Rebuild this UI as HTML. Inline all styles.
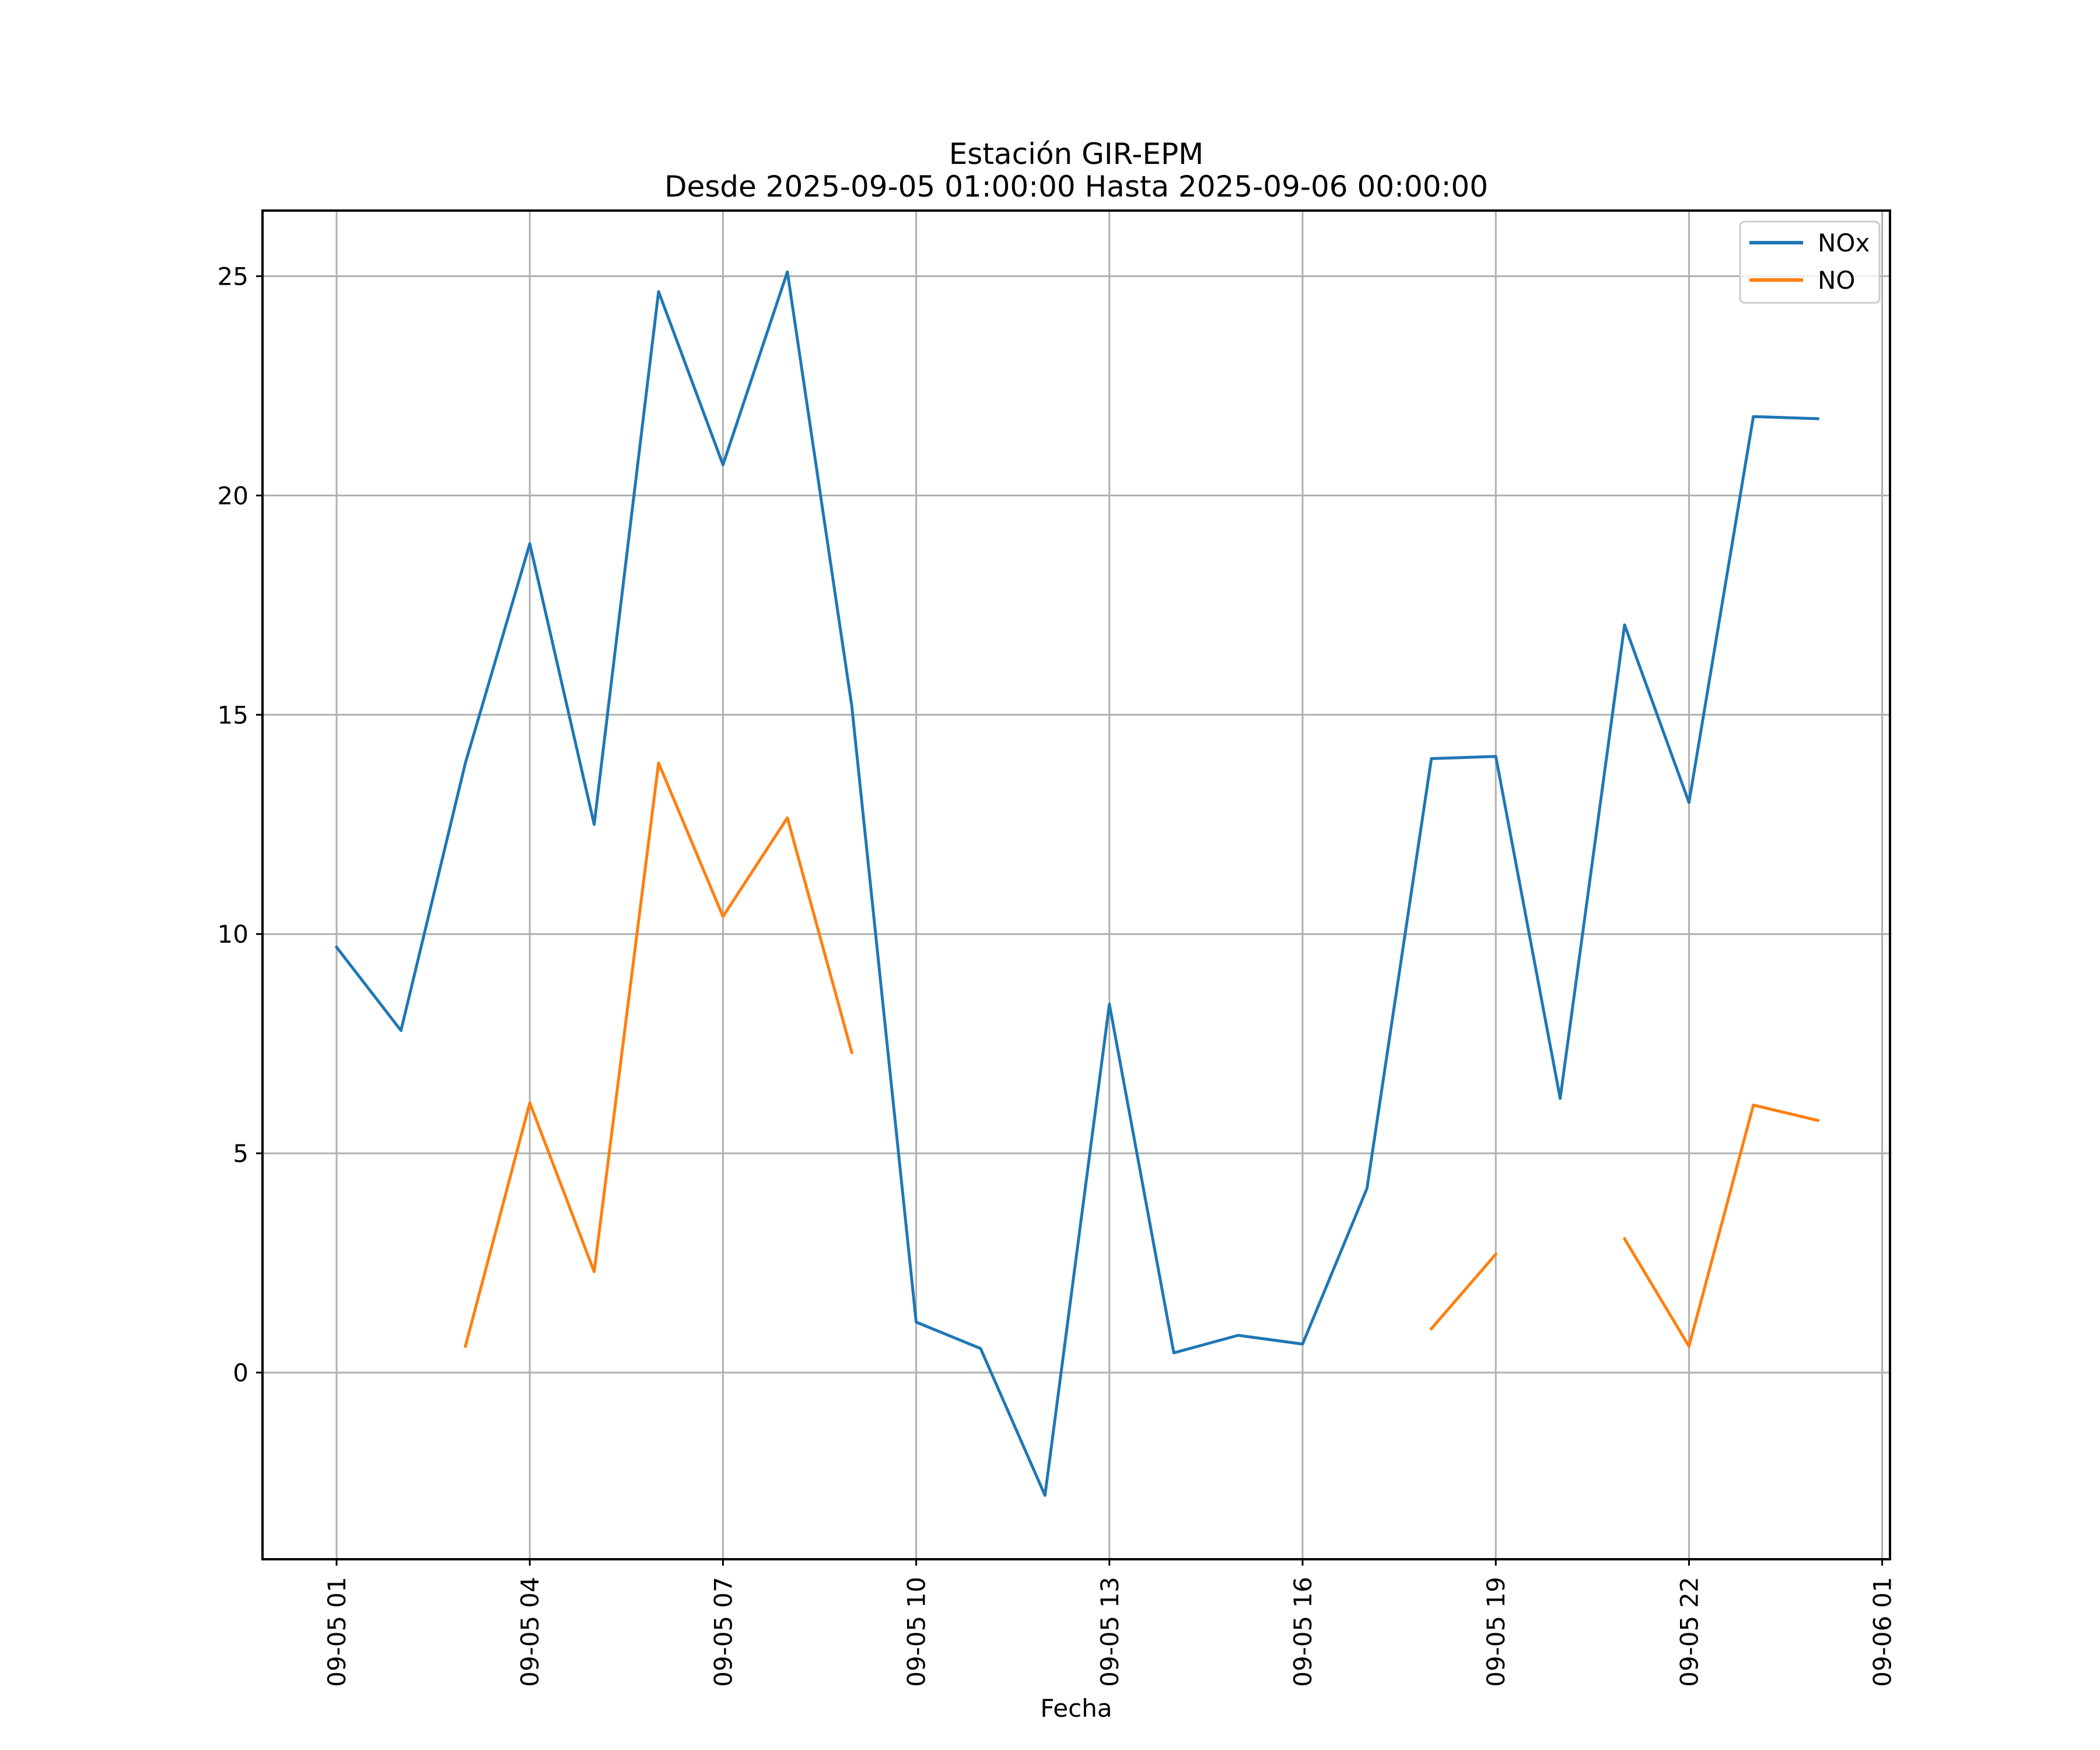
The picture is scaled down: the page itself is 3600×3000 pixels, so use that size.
<!DOCTYPE html>
<html><head><meta charset="utf-8"><style>
html,body{margin:0;padding:0;background:#fff}
svg{display:block;font-family:"DejaVu Sans","Liberation Sans",sans-serif}
</style></head><body>
<svg id="chart" width="3600" height="3000" viewBox="0 0 3600 3000" xmlns="http://www.w3.org/2000/svg">
<rect width="3600" height="3000" fill="#fff"/>
<g id="grid"></g><g id="series"></g><g id="axes"></g>
<text x="1845" y="281" text-anchor="middle" font-size="50">Estación GIR-EPM</text>
<text x="1845" y="337" text-anchor="middle" font-size="50">Desde 2025-09-05 01:00:00 Hasta 2025-09-06 00:00:00</text>
<text x="1845" y="2943" text-anchor="middle" font-size="42">Fecha</text>
<g>
<rect x="2983" y="380" width="239" height="139" rx="8" fill="#fff" fill-opacity="0.8" stroke="#ccc" stroke-width="3"/>
<line x1="2999" y1="416" x2="3091" y2="416" stroke="#1f77b4" stroke-width="6"/>
<text x="3116" y="431" font-size="42">NOx</text>
<line x1="2999" y1="480" x2="3091" y2="480" stroke="#ff7f0e" stroke-width="6"/>
<text x="3116" y="495" font-size="42">NO</text>
</g>
</svg>
<script>
const hours = [1,2,3,4,5,6,7,8,9,10,11,12,13,14,15,16,17,18,19,20,21,22,23,24];
const noxValues = [9.7,7.8,13.9,18.9,12.5,24.65,20.7,25.1,15.2,1.15,0.55,-2.8,8.4,0.45,0.85,0.65,4.2,14.0,14.05,6.25,17.05,13.0,21.8,21.75];
const noValues = [null,null,0.6,6.15,2.3,13.9,10.4,12.65,7.3,null,null,null,null,null,null,null,null,1.0,2.7,null,3.05,0.6,6.1,5.75];
const yTicks = [0,5,10,15,20,25];
const xTickHours = [1,4,7,10,13,16,19,22,25];
const xTickLabels = ["09-05 01","09-05 04","09-05 07","09-05 10","09-05 13","09-05 16","09-05 19","09-05 22","09-06 01"];

const L=450,R=3240,T=361,B=2673;
function xs(h){return 577+(h-1)*110.4;}
function ys(v){return 2353-v*75.18;}
const NS="http://www.w3.org/2000/svg";
function mk(tag,attrs,parent){const e=document.createElementNS(NS,tag);for(const k in attrs)e.setAttribute(k,attrs[k]);parent.appendChild(e);return e;}
const grid=document.getElementById('grid'),axes=document.getElementById('axes'),ser=document.getElementById('series');
yTicks.forEach(v=>{
  const g=mk('line',{x1:L,x2:R,y1:ys(v),y2:ys(v),stroke:'#b0b0b0','stroke-width':3},grid);
  
  
  const t=mk('line',{x1:L-11,x2:L,y1:ys(v),y2:ys(v),stroke:'#000','stroke-width':3},axes);
  
  
  const tx=mk('text',{x:L-24,y:ys(v)+15,'text-anchor':'end','font-size':42},axes);
  tx.textContent=v;
  
  
});
xTickHours.forEach((h,i)=>{
  const g=mk('line',{x1:xs(h),x2:xs(h),y1:T,y2:B,stroke:'#b0b0b0','stroke-width':3},grid);
  
  
  const t=mk('line',{x1:xs(h),x2:xs(h),y1:B,y2:B+11,stroke:'#000','stroke-width':3},axes);
  
  
  const tx=mk('text',{x:0,y:0,'text-anchor':'end','font-size':42,transform:`translate(${xs(h)+15},${B+30}) rotate(-90)`},axes);
  tx.textContent=xTickLabels[i];
  
  
});
const frame=mk('rect',{x:L,y:T,width:R-L,height:B-T,fill:'none',stroke:'#000','stroke-width':4},axes);


function drawSeries(vals,color,name){
  let segs=[],cur=[];
  vals.forEach((v,i)=>{if(v===null){if(cur.length)segs.push(cur);cur=[];}else cur.push(xs(hours[i]).toFixed(1)+','+ys(v).toFixed(1));});
  if(cur.length)segs.push(cur);
  segs.forEach(s=>{
    const p=mk('polyline',{points:s.join(' '),fill:'none',stroke:color,'stroke-width':5,'stroke-linejoin':'round','stroke-linecap':'square'},ser);
    
    
  });
}
drawSeries(noxValues,'#1f77b4','nox-line');
drawSeries(noValues,'#ff7f0e','no-line');
</script>
</body></html>
